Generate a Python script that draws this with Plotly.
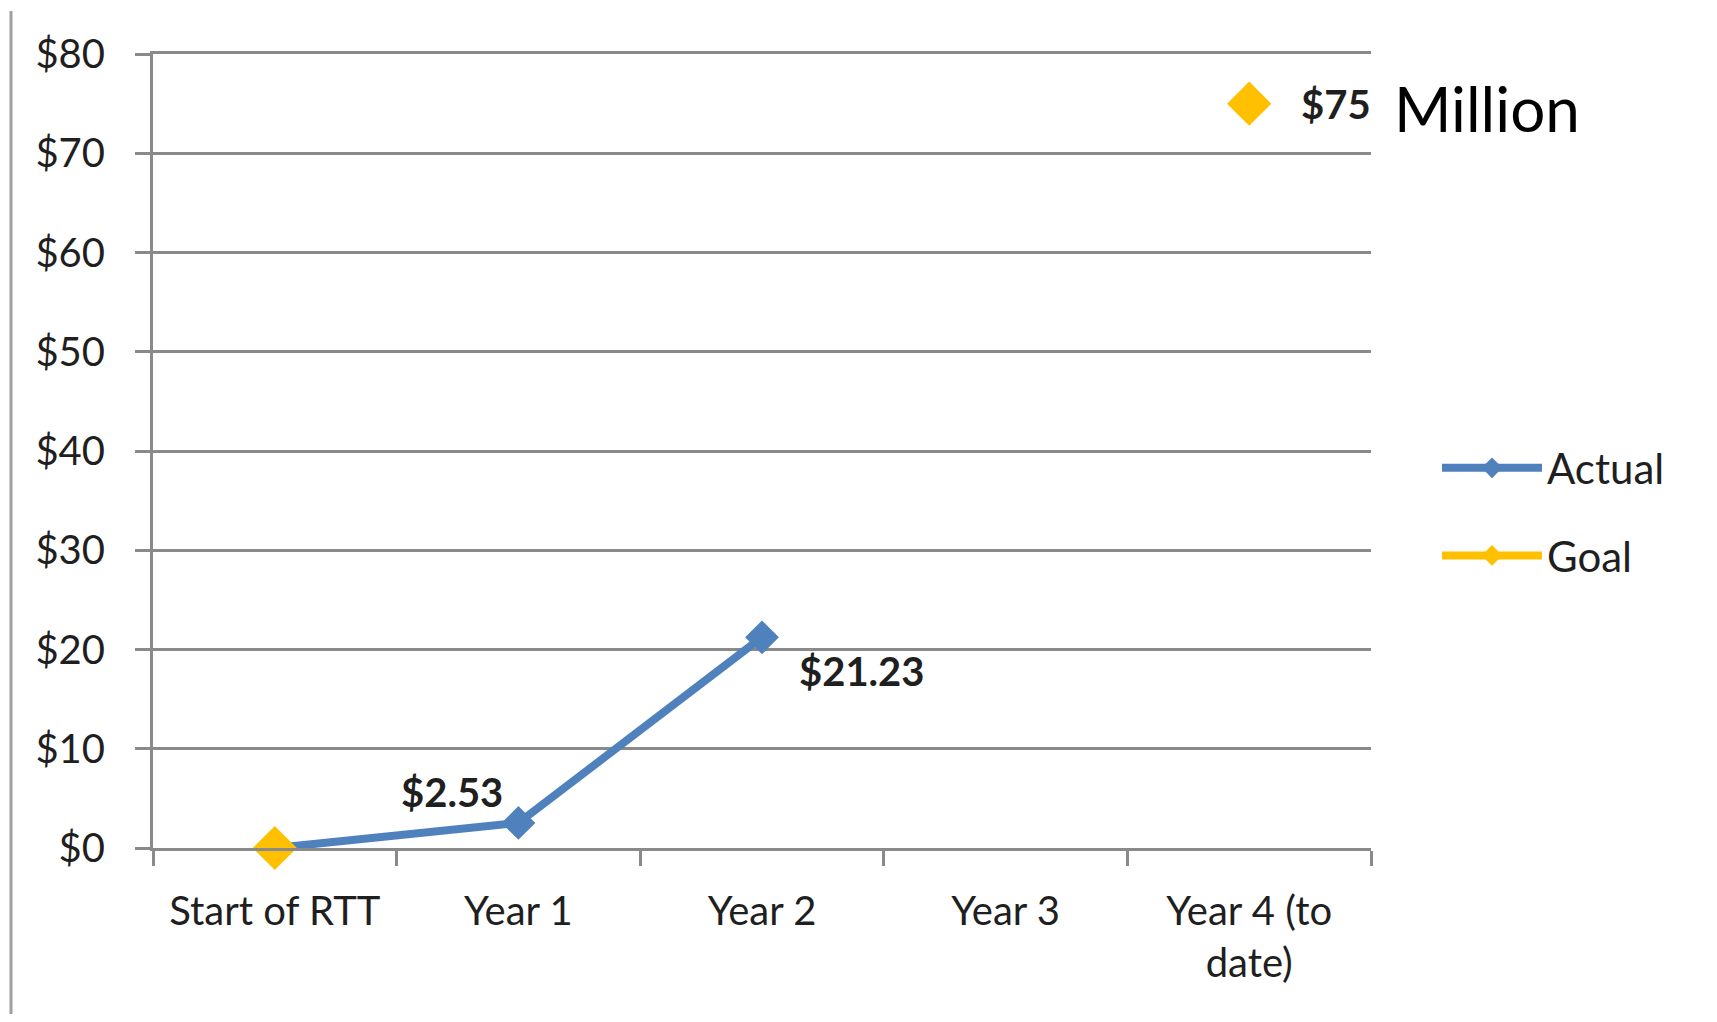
import plotly.graph_objects as go

categories = ["Start of RTT", "Year 1", "Year 2", "Year 3", "Year 4 (to<br>date)"]
actual = [0, 2.53, 21.23, None, None]
goal = [0, None, None, None, 75]
y_ticks = [0, 10, 20, 30, 40, 50, 60, 70, 80]

BLUE = "#4F81BD"
GOLD = "#FFC000"
GRID = "#8a8a8a"
FONT = "Lato"
TXT = "#1f1f1f"

# page has an 8px body margin, so the figure is drawn 8px smaller than the window
W, H = 1701, 1006
L, T = 145, 46
PW, PH = 1218, 794
R, B = W - L - PW, H - T - PH

fig = go.Figure()
fig.add_trace(go.Scatter(
    x=categories, y=actual, name="Actual", mode="lines+markers",
    line=dict(color=BLUE, width=8), marker=dict(symbol="diamond", size=26, color=BLUE),
    cliponaxis=False, legendgroup="a", connectgaps=False,
))
fig.add_trace(go.Scatter(
    x=categories, y=goal, name="Goal", mode="lines+markers",
    line=dict(color=GOLD, width=8), marker=dict(symbol="diamond", size=34, color=GOLD),
    cliponaxis=False, legendgroup="g", connectgaps=False,
))

annotations = [
    dict(x=categories[1], y=actual[1], text=f"<b>${actual[1]:.2f}</b>", showarrow=False,
         xshift=-66, yshift=31, font=dict(family=FONT, size=40, color=TXT)),
    dict(x=categories[2], y=actual[2], text=f"<b>${actual[2]:.2f}</b>", showarrow=False,
         xshift=100, yshift=-34, font=dict(family=FONT, size=40, color=TXT)),
    dict(x=categories[4], y=goal[4], text=f"<b>${goal[4]:.0f}</b>", showarrow=False,
         xanchor="left", xshift=50, yshift=0, font=dict(family=FONT, size=40, color=TXT)),
    dict(x=categories[4], y=goal[4], text="Million", showarrow=False,
         xanchor="left", xshift=143, yshift=-4, font=dict(family=FONT, size=62, color="#000000")),
]

fig.update_layout(
    width=W, height=H,
    margin=dict(l=L, r=R, t=T, b=B, autoexpand=False),
    paper_bgcolor="white", plot_bgcolor="white",
    font=dict(family=FONT, size=40, color=TXT),
    showlegend=True,
    legend=dict(x=(1429 - L) / PW, y=(T + PH - 504) / PH, xanchor="left", yanchor="middle",
                font=dict(family=FONT, size=42, color=TXT),
                tracegroupgap=30, traceorder="grouped", itemwidth=100,
                bgcolor="rgba(0,0,0,0)"),
    annotations=annotations,
    shapes=[dict(type="line", xref="paper", yref="paper",
                 x0=(3 - L) / PW, x1=(3 - L) / PW,
                 y0=(T + PH - 3) / PH, y1=(T + PH - H) / PH,
                 line=dict(color="#a0a0a0", width=3))],
)

fig.update_xaxes(
    type="category", range=[-0.5, 4.5], showgrid=False,
    showline=True, linecolor=GRID, linewidth=3, mirror=True,
    ticks="outside", ticklen=15, tickwidth=3, tickcolor=GRID, tickson="boundaries",
    tickfont=dict(family=FONT, size=40, color=TXT), ticklabelstandoff=26,
)
fig.update_yaxes(
    range=[0, 80], tickvals=y_ticks, ticktext=[f"${v}" for v in y_ticks],
    showgrid=True, gridcolor=GRID, gridwidth=3,
    showline=True, linecolor=GRID, linewidth=3, zeroline=False,
    ticks="outside", ticklen=15, tickwidth=3, tickcolor=GRID,
    tickfont=dict(family=FONT, size=40, color=TXT), ticklabelstandoff=22,
)

fig.write_html("out.html")
